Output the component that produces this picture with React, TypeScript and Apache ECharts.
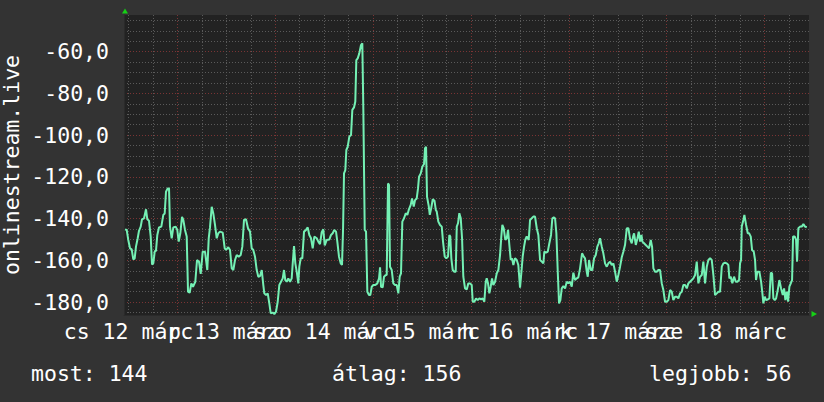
import React, { useEffect, useRef } from "react";
import * as echarts from "echarts";

// hours since the left edge of the plot
const times = [
  0.25, 0.66, 1.05, 1.47, 1.89, 2.28, 2.62, 2.94, 3.36, 3.68, 4.10, 4.42, 4.91, 5.40, 5.72, 6.13, 6.55, 6.87, 7.19, 7.53,
  7.85, 8.17, 8.58, 9.15, 9.64, 9.98, 10.30, 10.72, 11.04, 11.28, 11.70, 12.09, 12.68, 13.07, 13.42, 13.81, 14.23, 14.55, 14.96, 15.38,
  15.70, 16.11, 16.51, 16.92, 17.49, 17.91, 18.40, 18.81, 19.30, 19.87, 20.43, 20.78, 21.09, 21.51, 21.90, 22.32, 22.74, 23.13, 23.55, 24.21,
  24.70, 25.02, 25.58, 26.00, 26.42, 26.81, 27.23, 27.64, 28.13, 28.62, 29.02, 29.43, 29.92, 30.41, 30.91, 31.32, 31.71, 32.13, 32.55, 32.94,
  33.36, 33.78, 34.17, 34.41, 34.83, 35.25, 35.64, 35.98, 36.47, 36.87, 37.28, 37.70, 38.09, 38.51, 38.93, 39.24, 39.56, 39.91, 40.30, 40.72,
  41.13, 41.38, 41.70, 42.02, 42.36, 42.75, 43.00, 43.34, 43.73, 44.15, 44.64, 45.06, 45.45, 45.87, 46.28, 46.68, 47.27, 47.66, 48.07, 48.49,
  48.88, 49.23, 49.72, 50.36, 50.77, 51.19, 51.58, 52.00, 52.32, 52.73, 53.15, 53.47, 53.72, 53.96, 54.28, 54.53, 54.87, 55.26, 55.68, 56.00,
  56.41, 56.73, 56.98, 57.32, 57.71, 58.13, 58.45, 58.70, 59.04, 59.36, 59.68, 60.09, 60.41, 60.76, 61.15, 61.64, 62.13, 62.55, 62.80, 63.04,
  63.45, 63.77, 64.19, 64.43, 64.75, 65.00, 65.24, 65.66, 66.05, 66.47, 66.89, 67.28, 67.62, 67.94, 68.26, 68.68, 69.10, 69.49, 69.83, 70.32,
  70.64, 71.06, 71.38, 71.79, 72.11, 72.36, 72.78, 73.17, 73.59, 73.83, 74.08, 74.32, 74.74, 75.00, 75.34, 75.73, 76.15, 76.47, 76.70, 77.09,
  77.51, 77.93, 78.24, 78.66, 79.05, 79.47, 79.79, 80.03, 80.28, 80.62, 81.02, 81.36, 81.61, 81.92, 82.24, 82.59, 82.91, 83.22, 83.64, 84.06,
  84.45, 84.87, 85.28, 85.53, 85.92, 86.34, 86.76, 87.15, 87.57, 87.98, 88.37, 88.72, 88.96, 89.28, 89.60, 89.94, 90.26, 90.58, 91.00, 91.42,
  91.81, 92.23, 92.54, 92.79, 93.13, 93.52, 93.87, 94.19, 94.51, 94.85, 95.17, 95.49, 95.90, 96.32, 96.71, 97.13, 97.45, 97.79, 98.11, 98.43,
  98.77, 99.26, 99.59, 100.00, 100.39, 100.81, 101.23, 101.62, 102.04, 102.45, 102.85, 103.09, 103.51, 103.93, 104.32, 104.73, 105.05, 105.40, 105.72, 106.04,
  106.38, 106.70, 107.02, 107.36, 107.75, 108.17, 108.59, 108.98, 109.40, 109.81, 110.21, 110.62, 111.04, 111.43, 111.85, 112.34, 112.76, 113.07, 113.49, 113.74,
  114.06, 114.47, 114.86, 115.28, 115.70, 116.09, 116.43, 116.75, 117.17, 117.56, 117.98, 118.40, 118.79, 119.21, 119.62, 120.02, 120.43, 120.85, 121.24, 121.66,
  122.08, 122.47, 122.89, 123.31, 123.70, 124.12, 124.53, 124.85, 125.10, 125.52, 125.93, 126.25, 126.57, 126.91, 127.13, 127.55, 127.96, 128.36, 128.77, 129.19,
  129.51, 129.83, 130.24, 130.66, 131.05, 131.47, 131.89, 132.28, 132.70, 133.11, 133.51, 133.92, 134.34, 134.73, 135.15, 135.57, 135.96, 136.38, 136.79, 137.19,
  137.60, 138.02, 138.41, 138.83, 139.25, 139.64, 140.06, 140.47, 140.87, 141.28, 141.70, 142.09, 142.51, 142.93, 143.32, 143.74, 144.15, 144.55, 144.96, 145.38,
  145.77, 146.19, 146.61, 147.00, 147.42, 147.83, 148.22, 148.47, 148.81, 149.20, 149.62, 150.04, 150.43, 150.85, 151.09, 151.34, 151.51, 151.90, 152.15, 152.57,
  152.98, 153.30, 153.72, 154.04, 154.45, 154.77, 155.01, 155.34, 155.83, 156.25, 156.57, 156.81, 157.15, 157.47, 157.89, 158.28, 158.63, 158.95, 159.26, 159.61,
  159.93, 160.34, 160.73, 161.15, 161.57, 161.89, 162.21, 162.55, 162.87, 163.19, 163.53, 163.85, 164.09, 164.51, 164.83, 165.07, 165.39, 165.81, 166.23, 166.62,
  167.03, 167.45,
];

const values = [
  -145.1, -145.4, -150.2, -154.2, -154.7, -159.5, -159, -153.4, -149.4, -145.8, -143.8, -140.3, -139.8, -135.5, -140.3, -141, -148.6, -161.9, -161.4, -155.8,
  -155.3, -147.8, -144.2, -143.8, -138.2, -137.5, -127.1, -125.5, -125.5, -143.8, -149.4, -144.2, -143.8, -145.4, -151, -147, -139.1, -140.6, -145.4, -148.6,
  -175, -175.5, -171, -172.6, -170.2, -159.8, -160.6, -166.5, -155.8, -155.8, -164.6, -149.4, -144.2, -134.3, -137.5, -143, -149.4, -147, -146.2, -146.7,
  -154.2, -155, -153.7, -155, -163.8, -164.6, -159.8, -157.4, -158.2, -157.4, -153.4, -140.6, -140.3, -144.6, -146.2, -154.2, -155, -158.2, -164.6, -167.8,
  -167.5, -164.6, -171.8, -175.8, -176.6, -175.8, -180.6, -185.3, -185, -185.7, -184.6, -179.8, -171.8, -170.2, -168.6, -164.6, -169.4, -170.2, -168.6, -170.2,
  -168.6, -161.4, -153.1, -161.4, -165.4, -171, -163, -159, -159, -146.2, -145.4, -144.2, -147.8, -149.4, -154.2, -148.6, -149.4, -151, -152.2, -146.5,
  -145.1, -152.8, -150.2, -150, -147.8, -147, -145.4, -146.2, -151, -158.2, -161.4, -162.2, -145.4, -118.3, -116.7, -107.1, -105.5, -100.7, -99.9, -87.9,
  -86.7, -83.9, -64, -63.2, -60.8, -56.8, -56, -87.9, -145.4, -146.2, -175, -176.6, -176.6, -172.6, -171.8, -171.8, -171, -168.6, -163.3, -172.6,
  -172.9, -167.8, -167, -167, -123.1, -123.9, -163, -164.6, -171, -171.8, -171.8, -175.8, -167.8, -166.2, -141.4, -139.8, -137.4, -138.2, -135.8, -133.4,
  -130.3, -134.2, -131.1, -130.3, -125.5, -119.9, -118.3, -115.1, -113.8, -106.3, -105.5, -129.5, -134, -138.2, -135, -130.7, -131.4, -135.8, -136.6, -141.4,
  -143, -143.8, -151, -158.2, -159, -158.2, -147.8, -148.6, -159, -164.6, -165.4, -165.4, -143.8, -142.2, -137.4, -139.8, -149.4, -167.8, -173.4, -173.9,
  -171, -171, -171.8, -179.8, -179.8, -178.2, -179, -178.2, -178.6, -178.2, -179.8, -170.2, -168.6, -171, -175.8, -172.6, -168.6, -171.8, -170.2, -166.2,
  -164.6, -157.4, -148.6, -143, -144.6, -150.2, -149.4, -145.4, -152.6, -159.8, -159, -162.2, -159, -159.8, -162.2, -173, -166, -158, -153.5, -150,
  -148.5, -150.2, -140.6, -139.8, -139, -139, -144.6, -147.8, -159.8, -160.6, -161.4, -155.8, -156.3, -155.8, -151.8, -147.8, -139.8, -139.4, -139.8, -147,
  -165.4, -180.6, -179, -173.4, -172.3, -173.4, -170.2, -171, -170.2, -172.6, -165.9, -169.4, -168.6, -168.1, -163.8, -156.6, -158.2, -159, -165.4, -167.8,
  -159.8, -164.6, -164.6, -159, -157.4, -153.4, -151.8, -149.4, -153.4, -156.6, -161.4, -163, -161.4, -160.6, -162.2, -161.4, -165.4, -170.2, -167, -163,
  -158.5, -155.8, -152.5, -144.6, -144.6, -149.8, -151.8, -148.6, -147, -152.6, -149.4, -146.2, -151, -147.8, -151, -151.8, -152.6, -153.4, -154.2, -150.2,
  -153.4, -163.8, -165.4, -165.4, -164.6, -164.6, -171, -174.2, -179.8, -179.8, -179, -174.2, -175, -179, -177.4, -177.4, -178.2, -175.8, -175, -171.8,
  -171.8, -173.4, -171, -170.2, -169.4, -168.6, -167, -160.6, -171, -167.8, -167, -160.6, -171, -163, -159.8, -159, -159.8, -167, -176.6, -175.8,
  -175, -175, -163, -161.4, -161.1, -161.4, -162.2, -168.6, -167.8, -171, -167.8, -170.2, -170.2, -169.4, -161.4, -159.8, -143.8, -140.6, -138.2, -143,
  -147, -147, -148.6, -155, -155.8, -159.8, -169.4, -165.4, -165.4, -170.2, -175.8, -180.6, -177.4, -179, -178.7, -178.2, -165.9, -166.2, -178.2, -179,
  -178.2, -174.2, -169.4, -173.4, -176.6, -173.4, -179, -175, -179.8, -172.6, -171, -169.4, -148.6, -148.6, -150.2, -160.6, -144.6, -143.8, -143.8, -142.6,
  -143.8, -144.1,
];

const dayLabels = ["cs 12 márc", "p 13 márc", "szo 14 márc", "v 15 márc", "h 16 márc", "k 17 márc", "sze 18 márc"];
const dayLabelTimes = [1.1, 25.1, 49.1, 73.1, 97.1, 121.1, 145.1];
const minorXTimes = [1.1, 7.1, 19.1, 25.1, 31.1, 43.1, 49.1, 55.1, 67.1, 73.1, 79.1, 91.1, 97.1, 103.1, 115.1, 121.1, 127.1, 139.1, 145.1, 151.1, 163.1];
const majorXTimes = [13.1, 37.1, 61.1, 85.1, 109.1, 133.1, 157.1];

const yLabelValues = [-180, -160, -140, -120, -100, -80, -60];
const minorYValues = [-185, -175, -170, -165, -155, -150, -145, -135, -130, -125, -115, -110, -105, -95, -90, -85, -75, -70, -65, -55, -50, -45];

const yTitle = "onlinestream.live";
const legendTexts = ["most: 144", "átlag: 156", "legjobb: 56"];

const FONT = "'DejaVu Sans Mono', monospace";
const FS = 21.5;

export default function App() {
  const ref = useRef<HTMLDivElement>(null);

  useEffect(() => {
    document.body.style.margin = "0";
    const chart = echarts.init(ref.current!, undefined, { renderer: "svg" });
    const minorColor = "#5a5a5a";
    const majorColor = "#7a3434";
    const X_MIN = 0;
    const X_MAX = 168;
    const Y_MIN = -186.15;
    const Y_MAX = -42.43;

    const labelFormatter = (v: number) => {
      const i = dayLabelTimes.findIndex((t) => Math.abs(t - v) < 0.01);
      return i >= 0 ? dayLabels[i] : "";
    };
    const evenLabelTimes = dayLabelTimes.filter((_, i) => i % 2 === 0);
    const oddLabelTimes = dayLabelTimes.filter((_, i) => i % 2 === 1);
    const labelStyle = {
      show: true,
      showMinLabel: true,
      showMaxLabel: true,
      hideOverlap: false,
      margin: 5,
      color: "#ffffff",
      fontFamily: FONT,
      fontSize: FS,
      lineHeight: 22,
      formatter: labelFormatter,
    };

    chart.setOption({
      animation: false,
      backgroundColor: "#333333",
      grid: { left: 124, top: 15, width: 685, height: 300, show: true, backgroundColor: "#222222", borderWidth: 0 },
      xAxis: [
        {
          type: "value",
          min: X_MIN,
          max: X_MAX,
          position: "bottom",
          offset: 0,
          axisLine: { show: true, lineStyle: { color: "#2a2a2a", width: 1 } },
          axisTick: { show: false, customValues: minorXTimes },
          splitLine: { show: true, lineStyle: { color: minorColor, type: [1, 2], width: 1 } },
          axisLabel: { ...labelStyle, customValues: evenLabelTimes },
        },
        {
          type: "value",
          min: X_MIN,
          max: X_MAX,
          position: "top",
          axisLine: { show: false },
          axisTick: { show: false, customValues: majorXTimes },
          axisLabel: { show: false },
          splitLine: { show: true, lineStyle: { color: majorColor, type: [1, 2], width: 1 } },
        },
        {
          type: "value",
          min: X_MIN,
          max: X_MAX,
          position: "bottom",
          offset: 0,
          axisLine: { show: false },
          axisTick: { show: false, customValues: oddLabelTimes },
          splitLine: { show: false },
          axisLabel: { ...labelStyle, customValues: oddLabelTimes },
        },
      ],
      yAxis: [
        {
          type: "value",
          min: Y_MIN,
          max: Y_MAX,
          position: "left",
          axisLine: { show: true, lineStyle: { color: "#2a2a2a", width: 1 } },
          axisTick: { show: false, customValues: minorYValues },
          splitLine: { show: true, lineStyle: { color: minorColor, type: [1, 2], width: 1 } },
          axisLabel: {
            show: true,
            customValues: yLabelValues,
            showMinLabel: true,
            showMaxLabel: true,
            hideOverlap: false,
            margin: 15,
            color: "#ffffff",
            fontFamily: FONT,
            fontSize: FS,
            lineHeight: 22,
            formatter: (v: number) => v.toFixed(1).replace(".", ","),
          },
        },
        {
          type: "value",
          min: Y_MIN,
          max: Y_MAX,
          position: "right",
          axisLine: { show: false },
          axisTick: { show: false, customValues: yLabelValues },
          axisLabel: { show: false },
          splitLine: { show: true, lineStyle: { color: majorColor, type: [1, 2], width: 1 } },
        },
      ],
      series: [
        {
          type: "line",
          xAxisIndex: 0,
          yAxisIndex: 0,
          data: times.map((t, i) => [t, values[i]]),
          showSymbol: false,
          symbol: "none",
          lineStyle: { color: "#74f0b4", width: 2 },
          z: 5,
        },
      ],
      graphic: [
        {
          type: "text",
          x: 11,
          y: 165,
          rotation: Math.PI / 2,
          style: { text: yTitle, fill: "#ffffff", font: `${FS}px ${FONT}`, align: "center", verticalAlign: "middle" },
        },
        {
          type: "text",
          x: 31,
          y: 373.5,
          style: { text: legendTexts[0], fill: "#ffffff", font: `${FS}px ${FONT}`, align: "left", verticalAlign: "middle" },
        },
        {
          type: "text",
          x: 332,
          y: 373.5,
          style: { text: legendTexts[1], fill: "#ffffff", font: `${FS}px ${FONT}`, align: "left", verticalAlign: "middle" },
        },
        {
          type: "text",
          x: 791.5,
          y: 373.5,
          style: { text: legendTexts[2], fill: "#ffffff", font: `${FS}px ${FONT}`, align: "right", verticalAlign: "middle" },
        },
        {
          type: "polygon",
          shape: { points: [[122, 13.5], [128, 13.5], [125, 8.5]] },
          style: { fill: "#16d116" },
        },
        {
          type: "polygon",
          shape: { points: [[811.5, 311], [811.5, 317], [817, 314]] },
          style: { fill: "#16d116" },
        },
      ],
    });

    return () => chart.dispose();
  }, []);

  return <div ref={ref} style={{ position: "fixed", left: 0, top: 0, width: 824, height: 402 }} />;
}
